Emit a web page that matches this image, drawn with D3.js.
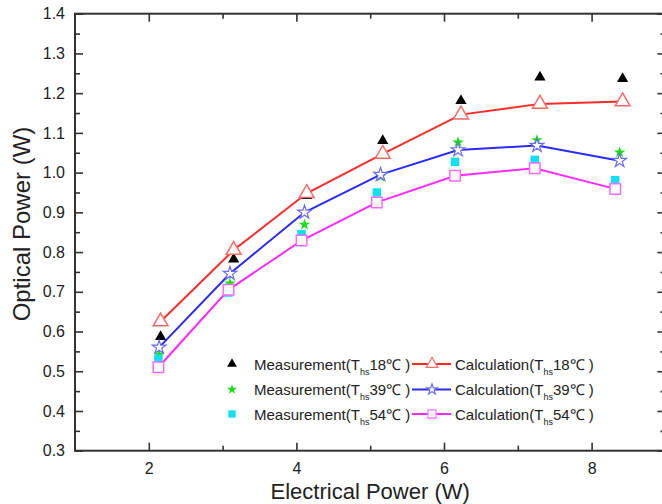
<!DOCTYPE html>
<html>
<head>
<meta charset="utf-8">
<script src="https://cdn.jsdelivr.net/npm/d3@7"></script>
<style>
  html, body { margin: 0; padding: 0; background: #fff; }
  svg { display: block; font-family: "Liberation Sans", Arial, sans-serif; }
</style>
</head>
<body>
<svg id="chart" width="662" height="504"></svg>
<script>
// Electrical input power (W) at which each heat-sink temperature was evaluated
const powerT18 = [2.16, 3.15, 4.14, 5.17, 6.23, 7.30, 8.42];
const powerT39 = [2.14, 3.10, 4.11, 5.14, 6.19, 7.26, 8.38];
const powerT54 = [2.13, 3.08, 4.07, 5.09, 6.15, 7.23, 8.32];

// Optical output power (W)
const measT18 = [0.587, 0.782, 0.942, 1.080, 1.181, 1.240, 1.236];
const calcT18 = [0.625, 0.805, 0.948, 1.047, 1.146, 1.173, 1.179];
const measT39 = [0.542, 0.721, 0.869, 0.990, 1.076, 1.082, 1.051];
const calcT39 = [0.560, 0.746, 0.900, 0.995, 1.057, 1.068, 1.030];
const measT54 = [0.531, 0.698, 0.845, 0.950, 1.027, 1.032, 0.981];
const calcT54 = [0.510, 0.705, 0.829, 0.925, 0.992, 1.011, 0.959];

const temperatures = ["18", "39", "54"];
const xMajorTicks = [2, 4, 6, 8];
const xMinorTicks = [3, 5, 7, 9];
const yMajorTicks = [0.3, 0.4, 0.5, 0.6, 0.7, 0.8, 0.9, 1.0, 1.1, 1.2, 1.3, 1.4];
const yMinorTicks = [0.35, 0.45, 0.55, 0.65, 0.75, 0.85, 0.95, 1.05, 1.15, 1.25, 1.35];

const series = [
  { t: temperatures[0], x: powerT18, meas: measT18, calc: calcT18,
    measSym: d3.symbolTriangle, measSize: 55, measColor: "#000000",
    calcSym: d3.symbolTriangle, calcSize: 95, calcWidth: 1.5, line: "#ff2a2a", calcStroke: "#ff6b6b" },
  { t: temperatures[1], x: powerT39, meas: measT39, calc: calcT39,
    measSym: d3.symbolStar, measSize: 42, measColor: "#16e016",
    calcSym: d3.symbolStar, calcSize: 58, calcWidth: 1.2, line: "#2a2aff", calcStroke: "#6b6bff" },
  { t: temperatures[2], x: powerT54, meas: measT54, calc: calcT54,
    measSym: d3.symbolSquare, measSize: 72, measColor: "#10e0f0",
    calcSym: d3.symbolSquare, calcSize: 110, calcWidth: 1.5, line: "#ff2aff", calcStroke: "#ff6bff" }
];

const svg = d3.select("#chart");
const plotLeft = 75, plotRight = 665.4, plotTop = 13.7, plotBottom = 450.7;

const x = d3.scaleLinear().domain([1, 9]).range([plotLeft, plotRight]);
const y = d3.scaleLinear().domain([0.3, 1.4]).range([plotBottom, plotTop]);

const axisColor = "#333";
const textColor = "#222";

function styleAxis(g) {
  g.select(".domain").remove();
  g.selectAll(".tick line").attr("stroke", axisColor).attr("stroke-width", 1.6);
  g.selectAll(".tick text").attr("fill", textColor).style("font-size", "16px")
    .style("font-family", "'Liberation Sans', Arial, sans-serif");
}

// Bottom axis (ticks pointing inward)
svg.append("g").attr("transform", `translate(0,${plotBottom})`)
  .call(d3.axisBottom(x).tickValues(xMajorTicks).tickSize(-8).tickPadding(12).tickFormat(d3.format("d")))
  .call(styleAxis);
svg.append("g").attr("transform", `translate(0,${plotBottom})`)
  .call(d3.axisBottom(x).tickValues(xMinorTicks).tickSize(-5).tickFormat(""))
  .call(styleAxis);
// Top axis
svg.append("g").attr("transform", `translate(0,${plotTop})`)
  .call(d3.axisTop(x).tickValues(xMajorTicks).tickSize(-8).tickFormat(""))
  .call(styleAxis);
svg.append("g").attr("transform", `translate(0,${plotTop})`)
  .call(d3.axisTop(x).tickValues(xMinorTicks).tickSize(-5).tickFormat(""))
  .call(styleAxis);
// Left axis
svg.append("g").attr("transform", `translate(${plotLeft},0)`)
  .call(d3.axisLeft(y).tickValues(yMajorTicks).tickSize(-8).tickPadding(10).tickFormat(d3.format(".1f")))
  .call(styleAxis);
svg.append("g").attr("transform", `translate(${plotLeft},0)`)
  .call(d3.axisLeft(y).tickValues(yMinorTicks).tickSize(-5).tickFormat(""))
  .call(styleAxis);
// Right axis
svg.append("g").attr("transform", `translate(${plotRight},0)`)
  .call(d3.axisRight(y).tickValues(yMajorTicks).tickSize(-8).tickFormat(""))
  .call(styleAxis);
svg.append("g").attr("transform", `translate(${plotRight},0)`)
  .call(d3.axisRight(y).tickValues(yMinorTicks).tickSize(-5).tickFormat(""))
  .call(styleAxis);

// Plot frame
svg.append("rect")
  .attr("x", plotLeft).attr("y", plotTop)
  .attr("width", plotRight - plotLeft).attr("height", plotBottom - plotTop)
  .attr("fill", "none").attr("stroke", axisColor).attr("stroke-width", 2);

// Axis titles
svg.append("text")
  .attr("x", (plotLeft + plotRight) / 2).attr("y", 499)
  .attr("text-anchor", "middle").attr("fill", textColor)
  .style("font-size", "22px")
  .text("Electrical Power (W)");
svg.append("text")
  .attr("transform", `translate(30,224) rotate(-90)`)
  .attr("text-anchor", "middle").attr("fill", textColor)
  .style("font-size", "24px")
  .text("Optical Power (W)");

// Measured points
series.forEach(s => {
  svg.append("g").selectAll("path")
    .data(s.meas.map((v, i) => [s.x[i], v]))
    .join("path")
    .attr("transform", d => `translate(${x(d[0])},${y(d[1])})`)
    .attr("d", d3.symbol(s.measSym, s.measSize))
    .attr("fill", s.measColor);
});

// Calculated curves
const line = d3.line().x(d => x(d[0])).y(d => y(d[1]));
series.forEach(s => {
  svg.append("path")
    .datum(s.calc.map((v, i) => [s.x[i], v]))
    .attr("d", line)
    .attr("fill", "none").attr("stroke", s.line).attr("stroke-width", 2);
});
series.forEach(s => {
  svg.append("g").selectAll("path")
    .data(s.calc.map((v, i) => [s.x[i], v]))
    .join("path")
    .attr("transform", d => `translate(${x(d[0])},${y(d[1])})`)
    .attr("d", d3.symbol(s.calcSym, s.calcSize))
    .attr("fill", "#fff").attr("stroke", s.calcStroke).attr("stroke-width", s.calcWidth);
});

// Legend
const legend = svg.append("g");
const rowY = [364, 389.5, 414];
function labelText(g, xPos, yPos, prefix, t) {
  const txt = g.append("text").attr("x", xPos).attr("y", yPos + 5.5)
    .attr("fill", textColor).style("font-size", "15px");
  txt.append("tspan").text(prefix + "(T");
  txt.append("tspan").attr("dy", 5).style("font-size", "9px").text("hs");
  txt.append("tspan").attr("dy", -5).text(t + "\u2103 )");
}
series.forEach((s, i) => {
  const ry = rowY[i];
  legend.append("path")
    .attr("transform", `translate(232,${ry})`)
    .attr("d", d3.symbol(s.measSym, s.measSize * 0.75))
    .attr("fill", s.measColor);
  labelText(legend, 254, ry, "Measurement", s.t);
  legend.append("line")
    .attr("x1", 412).attr("x2", 451).attr("y1", ry).attr("y2", ry)
    .attr("stroke", s.line).attr("stroke-width", 2);
  legend.append("path")
    .attr("transform", `translate(432,${ry})`)
    .attr("d", d3.symbol(s.calcSym, s.calcSize * 0.6))
    .attr("fill", "#fff").attr("stroke", s.calcStroke).attr("stroke-width", 1.2);
  labelText(legend, 455, ry, "Calculation", s.t);
});
</script>
</body>
</html>
